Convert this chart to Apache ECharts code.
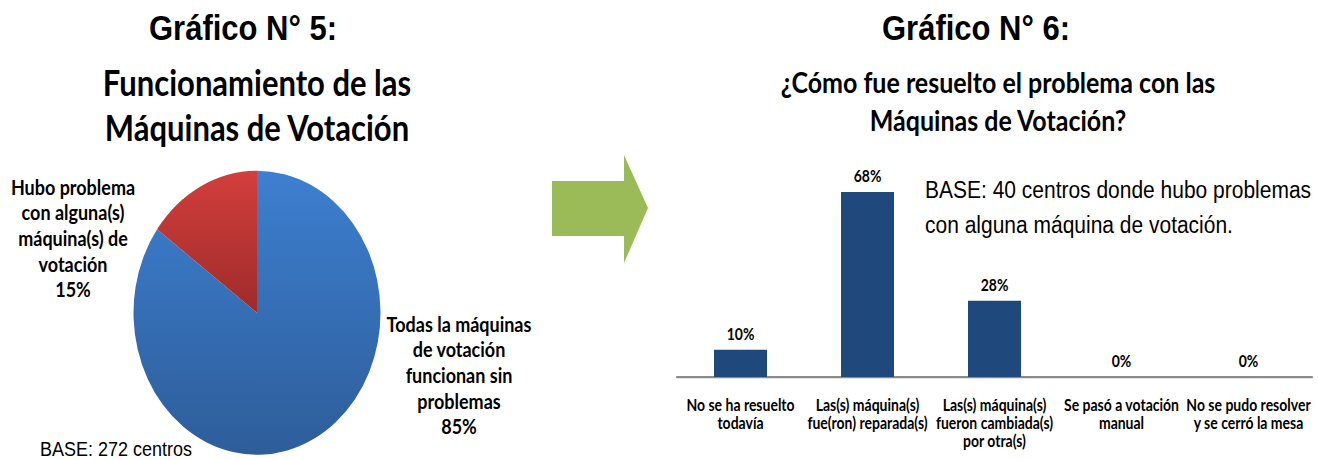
<!DOCTYPE html>
<html>
<head>
<meta charset="utf-8">
<script src="https://cdn.jsdelivr.net/npm/echarts@6/dist/echarts.min.js"></script>
<style>
html,body{margin:0;padding:0;background:#fff;overflow:hidden;}
#wrap{width:1318px;height:460px;overflow:hidden;position:relative;}
#chart{width:1318px;height:400px;transform:scaleY(1.15);transform-origin:0 0;}
</style>
</head>
<body>
<div id="wrap"><div id="chart"></div></div>
<script>
// ---- Data ----
const pieNames = ['Todas la máquinas\nde votación\nfuncionan sin\nproblemas', 'Hubo problema\ncon alguna(s)\nmáquina(s) de\nvotación'];
const pieValues = [85, 15];
const barCategories = ['No se ha resuelto\ntodavía', 'Las(s) máquina(s)\nfue(ron) reparada(s)', 'Las(s) máquina(s)\nfueron cambiada(s)\npor otra(s)', 'Se pasó a votación\nmanual', 'No se pudo resolver\ny se cerró la mesa'];
const barValues = [10, 68, 28, 0, 0];
const titleLeft = 'Gráfico N° 5:';
const titleRight = 'Gráfico N° 6:';
const subLeft = 'Funcionamiento de las\nMáquinas de Votación';
const subRight = '¿Cómo fue resuelto el problema con las\nMáquinas de Votación?';
const baseLeft = 'BASE: 272 centros';
const baseRight = 'BASE: 40 centros donde hubo problemas\ncon alguna máquina de votación.';

const calibri = 'Lato, "Open Sans", sans-serif';
const arial = '"Liberation Sans", Arial, sans-serif';

const chart = echarts.init(document.getElementById('chart'), null, {renderer: 'svg'});

const pieLabelPos = [
  {x: 459, y: 326},
  {x: 73, y: 207}
];

chart.setOption({
  animation: false,
  graphic: [
    {type: 'text', x: 243, y: 24, style: {text: titleLeft, fill: '#000', font: 'bold 31px ' + arial, align: 'center', verticalAlign: 'middle'}},
    {type: 'text', x: 976, y: 24, style: {text: titleRight, fill: '#000', font: 'bold 31px ' + arial, align: 'center', verticalAlign: 'middle'}},
    {type: 'text', x: 257, y: 91, style: {text: subLeft, fill: '#000', font: 'bold 31px ' + calibri, lineHeight: 39, align: 'center', verticalAlign: 'middle'}},
    {type: 'text', x: 998, y: 88, style: {text: subRight, fill: '#000', font: 'bold 25px ' + calibri, lineHeight: 33, align: 'center', verticalAlign: 'middle'}},
    {type: 'text', x: 40, y: 390, style: {text: baseLeft, fill: '#000', font: '18px ' + arial, align: 'left', verticalAlign: 'middle'}},
    {type: 'text', x: 925, y: 180.5, style: {text: baseRight, fill: '#000', font: '21px ' + arial, lineHeight: 30.5, align: 'left', verticalAlign: 'middle'}},
    {type: 'polygon', shape: {points: [[552,157.4],[624,157.4],[624,134.8],[648,180.9],[624,228.7],[624,205.2],[552,205.2]]}, style: {fill: '#9bbb59'}}
  ],
  grid: {left: 677, right: 6, top: 162.2, bottom: 72.2},
  xAxis: {
    type: 'category',
    data: barCategories,
    axisLine: {lineStyle: {color: '#8a8a8a', width: 2}},
    axisTick: {show: false},
    axisLabel: {interval: 0, color: '#000', fontFamily: calibri, fontWeight: 'bold', fontSize: 14, lineHeight: 15.6, margin: 16}
  },
  yAxis: {type: 'value', min: 0, max: 70, show: false, splitLine: {show: false}},
  series: [
    {
      type: 'pie',
      center: [257, 272],
      radius: 123.5,
      startAngle: 90,
      clockwise: true,
      data: pieNames.map((n, i) => ({
        name: n,
        value: pieValues[i],
        itemStyle: {
          color: i === 0
            ? new echarts.graphic.LinearGradient(0, 0, 0, 1, [{offset: 0, color: '#3d7fd0'}, {offset: 1, color: '#2e5d9a'}])
            : new echarts.graphic.LinearGradient(0, 0, 0, 1, [{offset: 0, color: '#d33f3d'}, {offset: 1, color: '#9e2b2a'}])
        }
      })),
      label: {
        show: true,
        formatter: p => p.name + '\n' + Math.round(p.percent) + '%',
        color: '#000',
        fontFamily: calibri,
        fontWeight: 'bold',
        fontSize: 18,
        lineHeight: 22.3,
        align: 'center'
      },
      labelLine: {show: false},
      labelLayout: p => ({x: pieLabelPos[p.dataIndex].x, y: pieLabelPos[p.dataIndex].y, align: 'center', verticalAlign: 'middle'}),
      emphasis: {disabled: true}
    },
    {
      type: 'bar',
      data: barValues,
      barWidth: 53,
      itemStyle: {color: '#1f497d'},
      label: {show: true, position: 'top', distance: 7, formatter: '{c}%', color: '#000', fontFamily: calibri, fontWeight: 'bold', fontSize: 14}
    }
  ]
});
</script>
</body>
</html>
